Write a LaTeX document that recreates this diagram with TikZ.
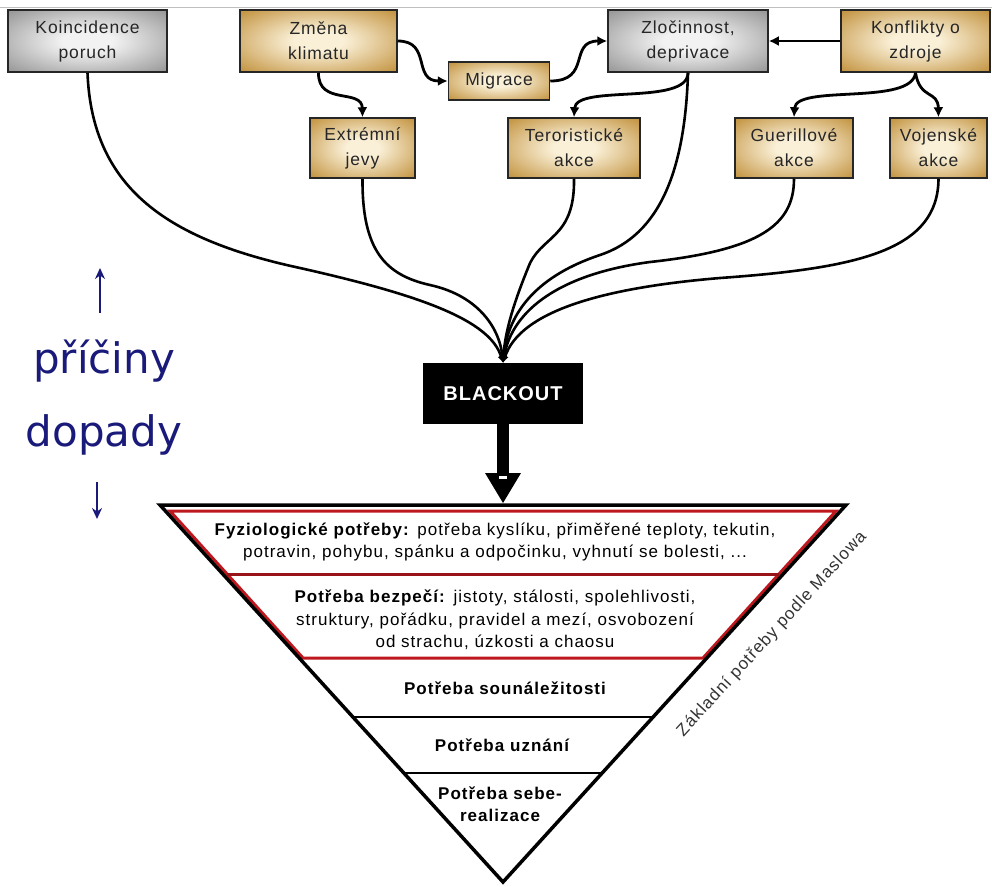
\documentclass[tikz,border=0pt]{standalone}
\usepackage{fontspec}
\setmainfont{Liberation Sans}
\newfontfamily\boxfont[LetterSpace=5]{Liberation Sans}
\newfontfamily\lvlfont[LetterSpace=6]{Liberation Sans}
\newfontfamily\bigfont{DejaVu Sans}
\usetikzlibrary{arrows.meta}
\definecolor{goldE}{RGB}{188,136,46}
\definecolor{goldC}{RGB}{250,240,215}
\definecolor{greyE}{RGB}{140,140,140}
\definecolor{greyC}{RGB}{242,242,242}
\definecolor{navyblue}{RGB}{26,26,122}
\definecolor{pyrred}{RGB}{190,24,30}
\pgfdeclareradialshading{goldshade}{\pgfpoint{0bp}{0bp}}{color(0bp)=(goldC); color(8bp)=(goldC); color(38bp)=(goldE); color(70bp)=(goldE)}
\pgfdeclareradialshading{greyshade}{\pgfpoint{0bp}{0bp}}{color(0bp)=(greyC); color(8bp)=(greyC); color(38bp)=(greyE); color(70bp)=(greyE)}
\begin{document}
\begin{tikzpicture}[x=1pt,y=-1pt,
  basebox/.style={draw=black!85, line width=1.5pt, inner sep=0pt, align=center,
    text=black!85, font=\boxfont\fontsize{17.5}{25}\selectfont},
  obox/.style={basebox, shading=goldshade},
  gbox/.style={basebox, shading=greyshade},
  conn/.style={line width=2.8pt, -{Latex[length=10pt,width=10pt]}},
  conv/.style={line width=2.6pt, -{Latex[length=7pt,width=7pt]}},
  lvl/.style={align=center, font=\lvlfont\fontsize{17}{22.5}\selectfont, text=black},
  lvlb/.style={align=center, font=\lvlfont\bfseries\fontsize{17}{22.5}\selectfont, text=black},
  bigword/.style={anchor=base, font=\bigfont\fontsize{42}{42}\selectfont, text=navyblue},
  navyarrow/.style={navyblue, line width=2.5pt, -{Stealth[length=11pt,width=10pt]}}
]
\useasboundingbox (0,0) rectangle (992,886);
\fill[white] (0,0) rectangle (992,886);
\coordinate (topl) at (0,7);
\coordinate (topr) at (992,7);
\draw[black!25, line width=1pt] (topl) -- (topr);

% boxes
\node[gbox, minimum width=159, minimum height=62] (koinc) at (87.5,41) {Koincidence\\poruch};
\node[obox, minimum width=157, minimum height=62] (zmena) at (318.5,41) {Změna\\klimatu};
\node[obox, minimum width=101, minimum height=38] (migrace) at (499,81) {Migrace};
\node[gbox, minimum width=160, minimum height=62] (zloc) at (688,41) {Zločinnost,\\deprivace};
\node[obox, minimum width=149, minimum height=62] (konf) at (915.5,41) {Konflikty o\\zdroje};
\node[obox, minimum width=105, minimum height=60] (extr) at (362.5,148) {Extrémní\\jevy};
\node[obox, minimum width=132, minimum height=60] (tero) at (574,148) {Teroristické\\akce};
\node[obox, minimum width=118, minimum height=60] (guer) at (794,148) {Guerillové\\akce};
\node[obox, minimum width=97, minimum height=60] (voj) at (938.5,148) {Vojenské\\akce};

\node[fill=black, minimum width=160, minimum height=61, inner sep=0pt, text=white,
  font=\boxfont\bfseries\fontsize{20}{24}\selectfont] (blackout) at (503,393.5) {BLACKOUT};

% arrows between top boxes
\draw[conn] (zmena.east) .. controls (432,41) and (412,81) .. (migrace.west);
\draw[conn] (migrace.east) .. controls (592,81) and (568,41) .. (zloc.west);
\draw[conn] (konf.west) -- (zloc.east);
\draw[conn] (zmena.south) .. controls (318,106) and (362,88) .. (extr.north);
\draw[conn] (zloc.south) .. controls (688,106) and (576,84) .. (tero.north);
\draw[conn] (konf.south) .. controls (912,106) and (796,84) .. (guer.north);
\draw[conn] (konf.south) .. controls (920,100) and (938,90) .. (voj.north);

% converging lines
\draw[conv] (koinc.south) .. controls (92,190) and (170,240) .. (300,268) .. controls (420,295) and (490,320) .. (blackout.north);
\draw[conv] (extr.south) .. controls (362,250) and (385,275) .. (430,285) .. controls (480,296) and (500,330) .. (blackout.north);
\draw[conv] (tero.south) .. controls (575,240) and (540,235) .. (528,268) .. controls (515,300) and (505,330) .. (blackout.north);
\draw[conv] (zloc.south) .. controls (685,170) and (660,235) .. (600,255) .. controls (540,275) and (508,310) .. (blackout.north);
\draw[conv] (guer.south) .. controls (794,225) and (760,250) .. (650,262) .. controls (560,274) and (512,310) .. (blackout.north);
\draw[conv] (voj.south) .. controls (938,250) and (860,268) .. (720,278) .. controls (600,288) and (520,312) .. (blackout.north);

% blackout output arrow
\coordinate (shaftend) at (503,474);
\coordinate (hl) at (485,473);
\coordinate (hr) at (521,473);
\coordinate (htip) at (503,503);
\draw[line width=12pt] (blackout.south) -- (shaftend);
\fill[black] (hl) -- (hr) -- (htip) -- cycle;
\fill[white] (499,476) rectangle (507,479);

% pyramid
\coordinate (tl) at (160,505);
\coordinate (tr) at (846,505);
\coordinate (ap) at (503,882);
\draw[pyrred, line width=3pt, line join=miter] (170,511) -- (836,511) -- (703,658) -- (303,658) -- cycle;
\draw[pyrred!80!black, line width=3pt] (227,574) -- (779,574);
\draw[black, line width=1.5pt] (353,717) -- (653,717);
\draw[black, line width=1.5pt] (404,773) -- (602,773);
\draw[black, line width=3.5pt, line join=miter] (tl) -- (tr) -- (ap) -- cycle;

\node[lvl] (l1) at (495,542) {\textbf{Fyziologické potřeby:} potřeba kyslíku, přiměřené teploty, tekutin,\\potravin, pohybu, spánku a odpočinku, vyhnutí se bolesti, ...};
\node[lvl] (l2) at (495,620) {\textbf{Potřeba bezpečí:} jistoty, stálosti, spolehlivosti,\\struktury, pořádku, pravidel a mezí, osvobození\\od strachu, úzkosti a chaosu};
\node[lvlb] (l3) at (505,688) {Potřeba sounáležitosti};
\node[lvlb] (l4) at (502,745) {Potřeba uznání};
\node[lvlb] (l5) at (500,804) {Potřeba sebe-\\realizace};
\node[rotate=47.5, inner sep=0pt, font=\lvlfont\fontsize{17}{20}\selectfont, text=black!80] (maslow) at (772,634) {Základní potřeby podle Maslowa};

% left labels
\node[bigword] (pricinny) at (104,373) {příčiny};
\node[bigword] (dopady) at (104,446) {dopady};
\coordinate (ua1) at (100,313);
\coordinate (ua2) at (100,268);
\coordinate (da1) at (97,482);
\coordinate (da2) at (97,519);
\draw[navyarrow] (ua1) -- (ua2);
\draw[navyarrow] (da1) -- (da2);
\end{tikzpicture}
\end{document}
